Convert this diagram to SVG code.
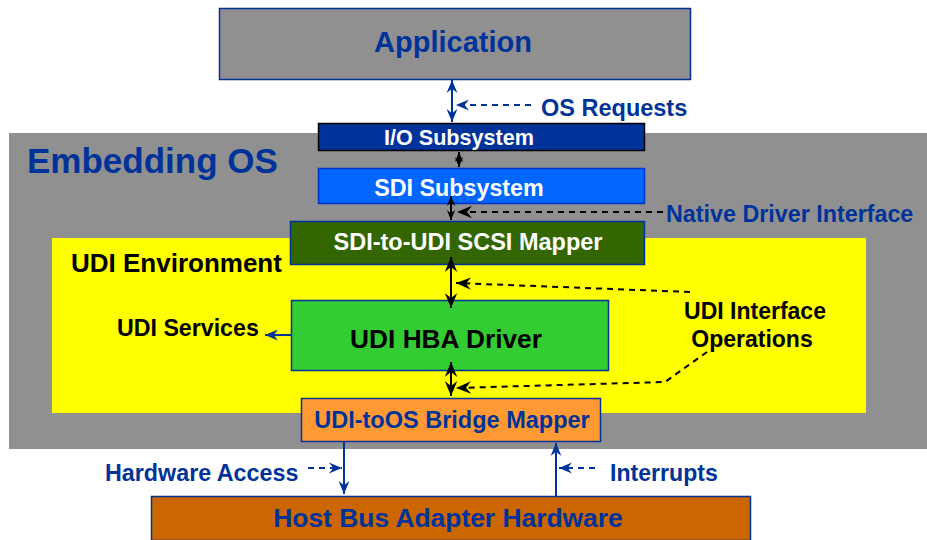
<svg xmlns="http://www.w3.org/2000/svg" width="927" height="540" viewBox="0 0 927 540">
<style>
text{font-family:"Liberation Sans",Arial,sans-serif;font-weight:bold}
.blue{fill:#003399}
.white{fill:#ffffff}
.black{fill:#000000}
.box{stroke:#003399;stroke-width:1.5}
.ln{fill:none;stroke-width:2}
.bk{stroke:#000}
.bl{stroke:#003399}
.dash{stroke-dasharray:6,5}
</style>
<defs>
<marker id="ahB" viewBox="0 0 12 10" refX="12" refY="5" markerWidth="15" markerHeight="13" markerUnits="userSpaceOnUse" orient="auto-start-reverse">
<path d="M0,0 L12,5 L0,10 L4,5 z" fill="#000"/>
</marker>
<marker id="ahBs" viewBox="0 0 12 10" refX="12" refY="5" markerWidth="10" markerHeight="9" markerUnits="userSpaceOnUse" orient="auto-start-reverse">
<path d="M0,0 L12,5 L0,10 L4,5 z" fill="#000"/>
</marker>
<marker id="ahL" viewBox="0 0 12 10" refX="12" refY="5" markerWidth="13" markerHeight="12" markerUnits="userSpaceOnUse" orient="auto-start-reverse">
<path d="M0,0 L12,5 L0,10 L4,5 z" fill="#003399"/>
</marker>
</defs>

<g id="embedding-os">
<rect x="9" y="133" width="918" height="316" fill="#909090"/>
<text x="27" y="173" font-size="35" class="blue">Embedding OS</text>
</g>
<g id="udi-environment">
<rect x="52" y="238" width="814" height="175" fill="#ffff00"/>
<text x="71" y="272" font-size="26" class="black">UDI Environment</text>
</g>

<g id="application">
<rect x="219.5" y="8.5" width="471" height="71" fill="#909090" class="box"/>
<text x="453" y="52" font-size="29" text-anchor="middle" class="blue">Application</text>
</g>
<g id="io-subsystem">
<rect x="318.5" y="123.5" width="326" height="27" fill="#003399" stroke="#000" stroke-width="1.5"/>
<text x="459" y="145" font-size="21.6" text-anchor="middle" class="white">I/O Subsystem</text>
</g>
<g id="sdi-subsystem">
<rect x="318.5" y="168.5" width="326" height="35" fill="#0066ff" stroke="#0033cc" stroke-width="1.5"/>
<text x="459" y="196" font-size="23.3" text-anchor="middle" class="white">SDI Subsystem</text>
</g>
<g id="sdi-udi-mapper">
<rect x="290.5" y="221.5" width="354" height="43" fill="#336600" class="box"/>
<text x="468" y="250" font-size="23.5" text-anchor="middle" class="white">SDI-to-UDI SCSI Mapper</text>
</g>
<g id="udi-hba-driver">
<rect x="291.5" y="300.5" width="317" height="70" fill="#33cc33" class="box"/>
<text x="446" y="348" font-size="26.3" text-anchor="middle" class="black">UDI HBA Driver</text>
</g>
<g id="bridge-mapper">
<rect x="301.5" y="398.5" width="299" height="43" fill="#ff9933" class="box"/>
<text x="452" y="428" font-size="23.5" text-anchor="middle" class="blue">UDI-toOS Bridge Mapper</text>
</g>
<g id="hba-hardware">
<rect x="151.5" y="496.5" width="599" height="44" fill="#cc6600" class="box"/>
<text x="448" y="527" font-size="26.4" text-anchor="middle" class="blue">Host Bus Adapter Hardware</text>
</g>

<g id="labels">
<text x="541" y="116" font-size="23.5" class="blue">OS Requests</text>
<text x="666" y="222" font-size="23.3" class="blue">Native Driver Interface</text>
<text x="117" y="336" font-size="23.2" class="black">UDI Services</text>
<text x="755" y="319" font-size="23" text-anchor="middle" class="black">UDI Interface</text>
<text x="752" y="347" font-size="23" text-anchor="middle" class="black">Operations</text>
<text x="105" y="481" font-size="23.3" class="blue">Hardware Access</text>
<text x="610" y="481" font-size="23.1" class="blue">Interrupts</text>
</g>

<g id="connectors">
<line x1="452" y1="80" x2="452" y2="122" class="ln bl" marker-start="url(#ahL)" marker-end="url(#ahL)"/>
<line x1="531" y1="105" x2="456" y2="105" class="ln bl dash" marker-end="url(#ahL)"/>
<line x1="459" y1="152" x2="459" y2="167" class="ln bk" marker-start="url(#ahBs)" marker-end="url(#ahBs)"/>
<line x1="451" y1="196" x2="451" y2="220" class="ln bk" marker-start="url(#ahBs)" marker-end="url(#ahBs)"/>
<line x1="663" y1="212" x2="457" y2="212" class="ln bk dash" marker-end="url(#ahB)"/>
<line x1="451" y1="257" x2="451" y2="308" class="ln bk" marker-start="url(#ahB)" marker-end="url(#ahB)"/>
<polyline points="690,292 456,283" class="ln bk dash" marker-end="url(#ahB)"/>
<line x1="451" y1="362" x2="451" y2="396" class="ln bk" marker-start="url(#ahB)" marker-end="url(#ahB)"/>
<polyline points="707,352 665,382 456,388" class="ln bk dash" marker-end="url(#ahB)"/>
<line x1="291" y1="335" x2="265" y2="335" class="ln bl" marker-end="url(#ahL)"/>
<line x1="344" y1="442" x2="344" y2="494" class="ln bl" marker-end="url(#ahL)"/>
<line x1="308" y1="468" x2="342" y2="468" class="ln bl dash" marker-end="url(#ahL)"/>
<line x1="556" y1="496" x2="556" y2="443" class="ln bl" marker-end="url(#ahL)"/>
<line x1="595" y1="468" x2="559" y2="468" class="ln bl dash" marker-end="url(#ahL)"/>
</g>
</svg>
